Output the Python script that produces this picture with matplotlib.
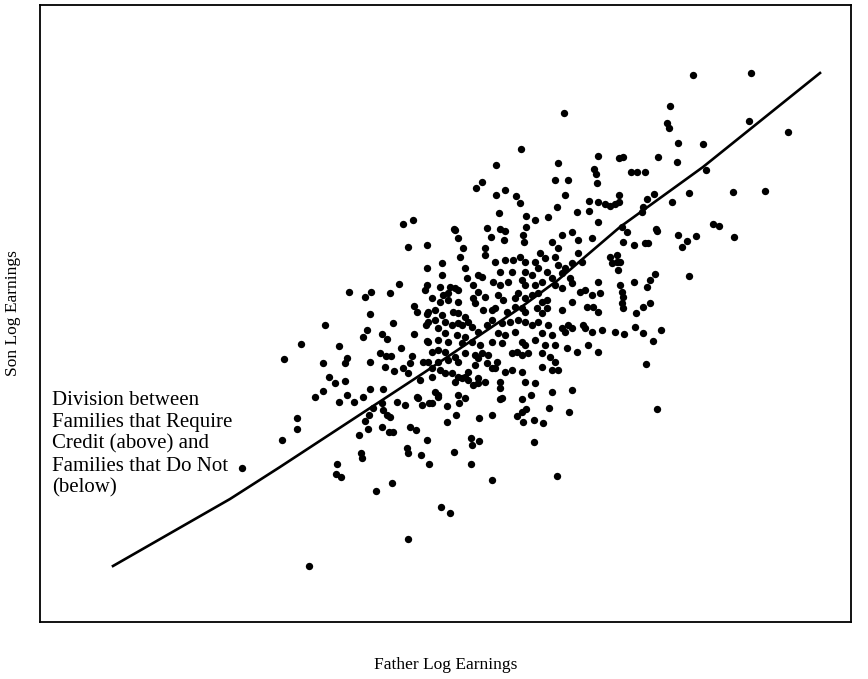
import matplotlib.pyplot as plt

# values (pixel-like units, y grows downward)
father = [
    403, 413,
    564, 521, 496, 558, 598, 619, 623, 594, 596, 476, 482, 505, 496, 516, 520, 555, 568, 597,
    565, 557, 589, 598, 605, 610, 615, 619, 619, 499, 526, 535, 548, 577, 589, 598, 526, 454,
    487, 500, 622,
    693, 751, 670, 667, 669, 749, 788, 678, 703, 658, 677, 631, 637, 645, 706, 647, 654, 643,
    642, 672, 689, 733, 765, 656, 713, 719,
    408, 427, 427, 399, 427, 425, 349, 365, 371, 390, 414, 417, 427, 370, 325, 393, 426, 367,
    363, 382, 387, 414, 427, 301, 339, 401, 284, 323, 347, 345, 370, 380, 386, 391, 412, 410,
    423, 385, 394, 403, 408, 420, 329, 335, 345, 323, 370, 383, 315, 347, 363, 417,
    339, 354, 373, 382, 383, 387, 390, 369, 365, 397, 405, 418, 422, 429, 297, 297, 282, 368,
    382, 389, 393, 359, 410, 416, 427, 242, 361, 362, 407, 408, 421, 429, 337, 336, 341, 392,
    376, 408, 309,
    438, 458, 432, 447, 459, 456, 447, 479, 492, 500, 522, 531, 517, 522, 526, 523, 534, 543,
    549, 569, 471, 472, 479, 454, 534, 471, 492, 557, 441, 450,
    657,
    627, 657, 678, 687, 682, 696, 734, 623, 634, 645, 648, 620, 655, 650, 647, 634, 689, 620,
    622, 623, 622, 623, 650, 643, 636, 635, 624, 643, 661, 653, 646,
    455, 458, 491, 505, 504, 523, 524, 552, 562, 572, 578, 592, 463, 485, 485, 540, 558, 578,
    610, 617, 617,
    460, 495, 505, 513, 520, 525, 535, 545, 555, 558, 565, 572, 582, 612, 618, 442, 465, 478,
    482, 500, 512, 525, 532, 538, 547, 562, 570, 442,
    440, 450, 455, 467, 473, 478, 493, 500, 508, 522, 525, 535, 542, 552, 555, 562, 572, 598,
    585, 580, 592, 600, 443, 448, 458,
    432, 440, 448, 458, 473, 475, 485, 498, 503, 515, 518, 525, 532, 538, 542, 547, 572, 587,
    593, 598, 428, 435, 442, 453, 458, 465, 483, 492, 495, 507, 515, 522, 525, 537, 542, 547,
    562,
    428, 435, 445, 452, 458, 462, 468, 472, 478, 487, 492, 502, 510, 518, 525, 532, 538, 548,
    562, 568, 583, 585, 592, 602, 615, 438, 445, 457, 465, 498, 505, 515, 542, 552, 565, 572,
    428, 438, 448, 462, 472, 480, 492, 502, 522, 525, 535, 545, 555, 567, 577, 588, 598, 432,
    438, 445, 455, 465, 475, 482, 488, 497, 512, 517, 522, 528, 542, 550, 555, 558, 428, 438,
    448, 458, 475, 478, 487, 495, 468,
    432, 440, 445, 452, 458, 465, 468, 478, 485, 492, 505, 512, 522, 542, 552, 432, 455, 462,
    473, 478, 500, 500, 525, 535, 552, 572, 435, 438, 465, 502,
]
son = [
    224, 220,
    113, 149, 165, 163, 156, 158, 157, 169, 174, 188, 182, 190, 195, 196, 203, 180, 180, 183,
    195, 207, 201, 202, 204, 206, 204, 202, 195, 213, 216, 220, 217, 212, 211, 222, 227, 229,
    228, 229, 227,
    75, 73, 106, 123, 128, 121, 132, 143, 144, 157, 162, 172, 172, 172, 170, 199, 194, 207,
    212, 202, 193, 192, 191, 229, 224, 226,
    247, 245, 268, 284, 285, 290, 292, 297, 292, 293, 306, 312, 314, 314, 325, 323, 325, 330,
    337, 334, 339, 334, 341, 344, 346, 348, 359, 363, 358, 363, 362, 353, 356, 356, 356, 363,
    362, 367, 371, 368, 373, 380, 377, 383, 381, 391, 389, 389, 397, 395, 397, 397,
    402, 402, 408, 403, 410, 415, 417, 415, 421, 402, 405, 398, 405, 403, 418, 429, 440, 429,
    427, 432, 432, 435, 427, 430, 440, 468, 453, 458, 448, 453, 455, 464, 464, 474, 477, 483,
    491, 539, 566,
    397, 395, 403, 406, 403, 415, 422, 418, 415, 399, 399, 395, 416, 412, 409, 422, 420, 423,
    408, 412, 438, 445, 441, 452, 442, 464, 480, 476, 507, 513,
    409,
    232, 231, 235, 241, 247, 236, 237, 242, 245, 243, 243, 262, 274, 280, 287, 282, 276, 285,
    292, 297, 303, 308, 303, 307, 313, 327, 334, 333, 330, 341, 364,
    230, 238, 237, 231, 240, 235, 242, 242, 235, 232, 240, 238, 248, 248, 255, 253, 248, 253,
    257, 255, 262,
    257, 262, 260, 260, 257, 262, 262, 258, 257, 265, 268, 263, 262, 263, 270, 263, 268, 275,
    277, 272, 272, 272, 275, 268, 272, 273, 278, 275,
    287, 287, 288, 278, 285, 292, 282, 285, 282, 280, 285, 285, 282, 278, 285, 288, 283, 282,
    290, 292, 295, 293, 295, 293, 290,
    298, 302, 300, 302, 298, 303, 297, 295, 300, 298, 293, 298, 295, 293, 302, 300, 302, 307,
    307, 312, 312, 310, 315, 312, 313, 317, 310, 310, 308, 312, 307, 308, 312, 308, 313, 308,
    310,
    322, 320, 322, 325, 323, 325, 322, 327, 332, 325, 320, 323, 322, 320, 322, 325, 322, 325,
    328, 325, 325, 328, 332, 330, 332, 328, 333, 335, 337, 333, 335, 332, 333, 335, 332, 328,
    342, 340, 342, 343, 342, 345, 342, 343, 342, 345, 340, 345, 345, 348, 352, 345, 352, 352,
    350, 352, 357, 353, 355, 353, 355, 362, 353, 352, 355, 353, 353, 357, 362, 370, 362, 362,
    360, 362, 365, 358, 363, 368, 372,
    368, 370, 373, 373, 377, 377, 380, 378, 382, 368, 372, 370, 372, 367, 370, 377, 382, 378,
    385, 383, 382, 388, 382, 383, 392, 390, 392, 395, 398, 398,
]

# division line between families that need credit and those that don't
line_x = [113, 230, 280, 393, 425, 520, 558, 620, 703, 820]
line_y = [566, 499, 467, 393, 372, 308, 280, 227, 167, 73]

fig = plt.figure(figsize=(8.68, 6.79), dpi=100)
ax = fig.add_axes([40/868, 57/679, 811/868, 617/679])

ax.scatter(father, son, s=28, color='black', linewidths=0)
ax.plot(line_x, line_y, color='black', linewidth=1.9)

ax.set_xlim(40, 851)
ax.set_ylim(622, 5)
ax.set_xticks([])
ax.set_yticks([])
for sp in ax.spines.values():
    sp.set_linewidth(1.3)

ax.text(52, 391, "Division between\nFamilies that Require\nCredit (above) and\nFamilies that Do Not\n(below)",
        family='Liberation Serif', fontsize=15, va='top', ha='left', linespacing=1.2)

ax.set_xlabel("Father Log Earnings", family='Liberation Serif', fontsize=12.5, labelpad=25)
ax.set_ylabel("Son Log Earnings", family='Liberation Serif', fontsize=12.5, labelpad=14)

fig.savefig("out.png", dpi=100)
